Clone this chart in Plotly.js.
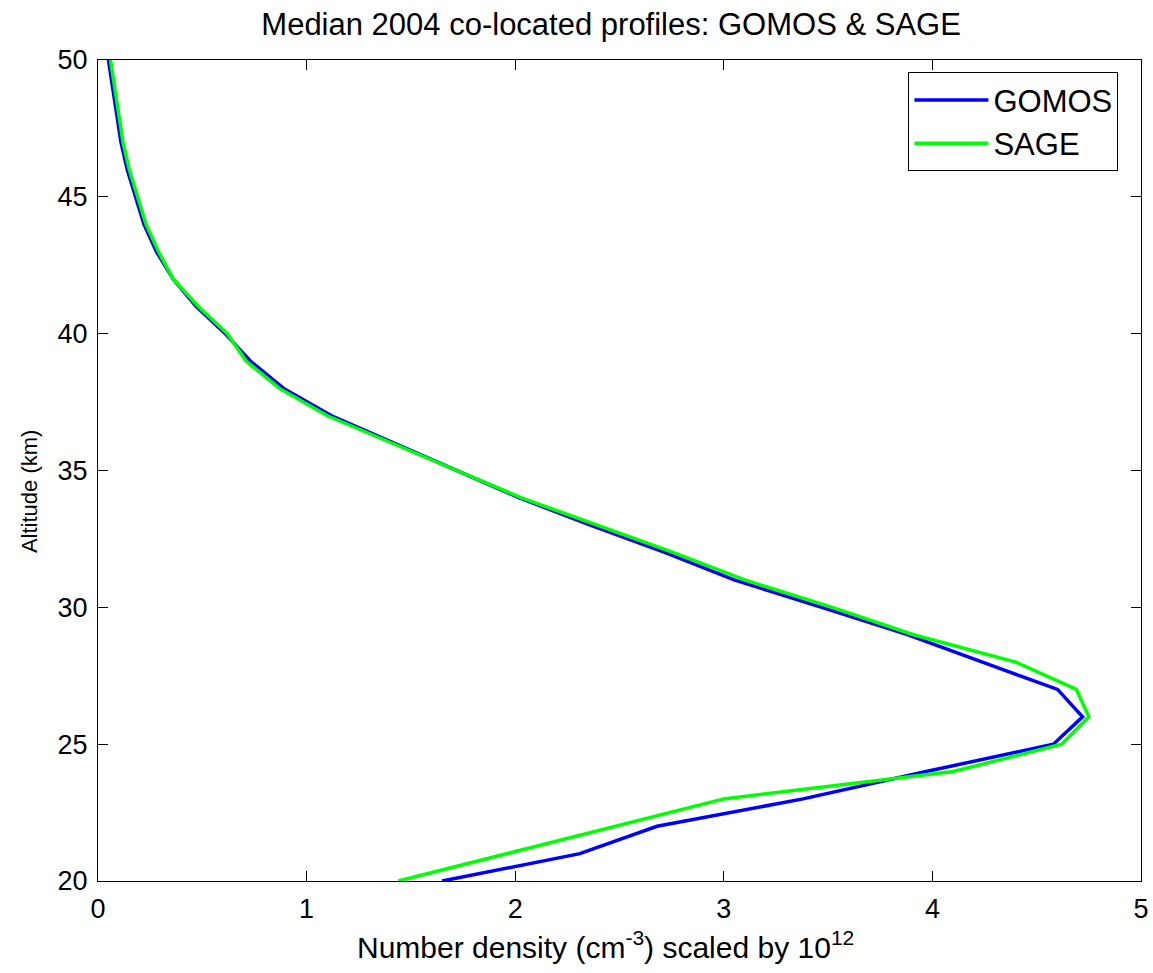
<!DOCTYPE html>
<html>
<head>
<meta charset="utf-8">
<script src="https://cdn.plot.ly/plotly-3.0.1.min.js"></script>
<style>html,body{margin:0;padding:0;background:#fff;}#chart{width:1153px;height:973px;}</style>
</head>
<body>
<div id="chart"></div>
<script>
const altitude = [20,21,22,23,24,25,26,27,28,29,30,31,32,33,34,35,36,37,38,39,40,41,42,43,44,45,46,47,48,49,50];
const gomos = [1.65,2.31,2.68,3.38,3.97,4.58,4.72,4.60,4.24,3.88,3.47,3.05,2.72,2.36,2.02,1.72,1.42,1.12,0.89,0.73,0.61,0.47,0.36,0.28,0.22,0.18,0.14,0.11,0.09,0.07,0.05];
const sage  = [1.44,1.96,2.48,3.00,4.10,4.62,4.75,4.69,4.40,3.91,3.52,3.10,2.76,2.39,2.03,1.72,1.41,1.10,0.87,0.71,0.62,0.48,0.36,0.29,0.23,0.19,0.15,0.12,0.10,0.08,0.06];
const xTicks = [0,1,2,3,4,5];
const yTicks = [20,25,30,35,40,45,50];

const font = {family: 'Liberation Sans, Arial, sans-serif', color: '#000'};
const traces = [
  {x: gomos, y: altitude, name: 'GOMOS', mode: 'lines', line: {color: '#0000ff', width: 3.5}},
  {x: sage, y: altitude, name: 'SAGE', mode: 'lines', line: {color: '#00ff00', width: 3.5}}
];
const axisCommon = {
  showgrid: false, zeroline: false, showline: true, mirror: 'ticks',
  linecolor: '#000', linewidth: 1, ticks: 'inside', ticklen: 10, tickcolor: '#000',
  tickfont: Object.assign({size: 27}, font)
};
const layout = {
  width: 1153, height: 973,
  paper_bgcolor: '#fff', plot_bgcolor: '#fff',
  margin: {l: 98, r: 12, t: 60, b: 92},
  font: font,
  title: {text: 'Median 2004 co-located profiles: GOMOS &amp; SAGE', font: Object.assign({size: 31}, font), x: 0.53, xanchor: 'center', y: 0.975, yanchor: 'middle'},
  xaxis: Object.assign({}, axisCommon, {range: [0, 5], tickvals: xTicks, ticktext: xTicks.map(String), ticklabelstandoff: 4}),
  yaxis: Object.assign({}, axisCommon, {range: [20, 50], tickvals: yTicks, ticktext: yTicks.map(String), ticklabelstandoff: 4}),
  annotations: [
    {text: 'Altitude (km)', xref: 'paper', yref: 'paper', x: -0.065, y: 0.474, xanchor: 'center', yanchor: 'middle',
     textangle: -90, showarrow: false, font: Object.assign({size: 22}, font)},
    {text: 'Number density (cm<sup>-3</sup>) scaled by 10<sup>12</sup>', xref: 'paper', yref: 'paper', x: 0.487, y: -0.078,
     xanchor: 'center', yanchor: 'middle', showarrow: false, font: Object.assign({size: 30}, font)}
  ],
  showlegend: true,
  legend: {x: 0.777, y: 0.985, xanchor: 'left', yanchor: 'top', bordercolor: '#000', borderwidth: 1,
    bgcolor: '#fff', font: Object.assign({size: 31}, font), itemwidth: 74, tracegroupgap: 0}
};
Plotly.newPlot('chart', traces, layout, {displayModeBar: false, staticPlot: true});
</script>
</body>
</html>
